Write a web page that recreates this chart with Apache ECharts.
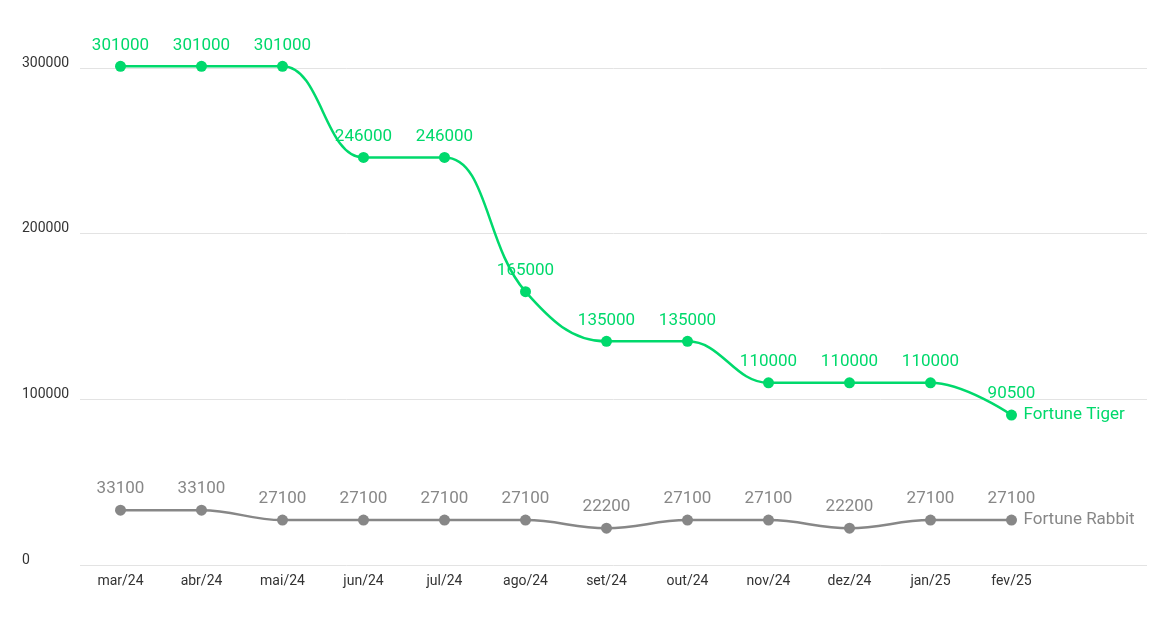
<!DOCTYPE html><html><head><meta charset="utf-8">
<script src="https://cdn.jsdelivr.net/npm/echarts@6/dist/echarts.min.js"></script>
<style>html,body{margin:0;background:#fff}#c{width:1162px;height:623px}</style></head><body><div id="c"></div>
<script>
const categories=['mar/24','abr/24','mai/24','jun/24','jul/24','ago/24','set/24','out/24','nov/24','dez/24','jan/25','fev/25'];
const tiger=[301000,301000,301000,246000,246000,165000,135000,135000,110000,110000,110000,90500];
const rabbit=[33100,33100,27100,27100,27100,27100,22200,27100,27100,22200,27100,27100];
const yTicks=[0,100000,200000,300000];
const green='#00d96c',gray='#878787';
const ch=echarts.init(document.getElementById('c'));
function s(name,data,color){return{name,type:'line',data,smooth:0.4,symbol:'circle',symbolSize:11,clip:false,
 lineStyle:{color,width:2.5},itemStyle:{color},
 label:{show:true,position:'top',color,fontSize:17,fontFamily:'Roboto',distance:7},
 endLabel:{show:true,formatter:'{a}',color,fontSize:17,fontFamily:'Roboto',offset:[4,0]}};}
ch.setOption({animation:false,
 grid:[{left:80,right:110,top:68,bottom:58},{left:80,right:15,top:68,bottom:58}],
 xAxis:[{type:'category',data:categories,gridIndex:0,axisLine:{show:false},axisTick:{show:false},
   axisLabel:{color:'#333',fontSize:14,fontFamily:'Roboto',margin:9}},
  {type:'category',gridIndex:1,show:false,data:['']}],
 yAxis:[{type:'value',gridIndex:0,min:0,max:300000,interval:100000,splitLine:{show:false},
   axisLabel:{color:'#333',fontSize:14,fontFamily:'Roboto',align:'left',margin:58,verticalAlign:'bottom',padding:[0,0,-2,0],
   formatter:v=>yTicks.includes(v)?String(v):''}},
  {type:'value',gridIndex:1,min:0,max:300000,interval:100000,axisLabel:{show:false},
   splitLine:{lineStyle:{color:'#e3e3e3'}}}],
 series:[s('Fortune Tiger',tiger,green),s('Fortune Rabbit',rabbit,gray)]});
</script></body></html>
